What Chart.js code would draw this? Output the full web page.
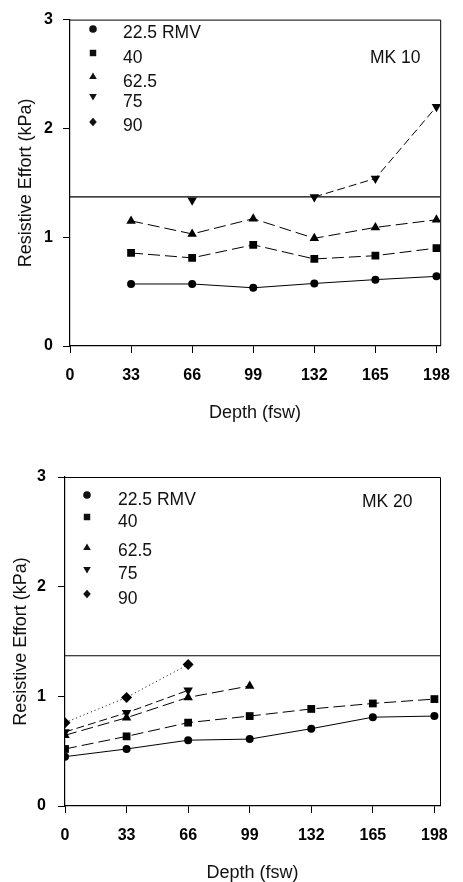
<!DOCTYPE html>
<html>
<head>
<meta charset="utf-8">
<script src="https://cdn.jsdelivr.net/npm/chart.js@4/dist/chart.umd.min.js"></script>
<style>
  body { margin: 0; background: #fff; }
  canvas { display: block; }
</style>
</head>
<body>
<canvas id="mk10" width="463" height="430"></canvas>
<canvas id="mk20" width="463" height="452"></canvas>
<script>
// ---- data ----
const depthTicks = [0, 33, 66, 99, 132, 165, 198];
const rmvLabels = ["22.5 RMV", "40", "62.5", "75", "90"];
const limitValue = 1.37;

// MK 10
const mk10Depth = [33, 66, 99, 132, 165, 198];
const mk10_225 = [0.57, 0.57, 0.535, 0.575, 0.61, 0.64];
const mk10_40 = [0.855, 0.81, 0.93, 0.80, 0.83, 0.90];
const mk10_625 = [1.15, 1.03, 1.17, 0.99, 1.09, 1.16];
const mk10_75 = [null, 1.34, null, 1.37, 1.54, 2.2];
const mk10_90 = [];

// MK 20
const mk20Depth = [0, 33, 66, 99, 132, 165, 198];
const mk20_225 = [0.45, 0.52, 0.60, 0.61, 0.705, 0.81, 0.82];
const mk20_40 = [0.52, 0.635, 0.76, 0.82, 0.885, 0.935, 0.975];
const mk20_625 = [0.645, 0.805, 0.99, 1.095];
const mk20_75 = [0.675, 0.85, 1.055];
const mk20_90 = [0.76, 0.99, 1.29];

// ---- styles ----
const FONT = "Arial, 'Liberation Sans', sans-serif";
const seriesStyle = [
  { pointStyle: 'circle', rotation: 0, dash: [], radius: 4 },
  { pointStyle: 'rect', rotation: 0, dash: [12, 5], radius: 5.5 },
  { pointStyle: 'triangle', rotation: 0, dash: [12, 5], radius: 5.5 },
  { pointStyle: 'triangle', rotation: 180, dash: [8, 4], radius: 5.5 },
  { pointStyle: 'rectRot', rotation: 0, dash: [1, 3], radius: 5.5 }
];

function toXY(xs, ys) {
  return ys.map((y, i) => ({ x: xs[i], y: y }));
}

function buildDatasets(xs, seriesList, xMax) {
  const sets = seriesList.map((ys, i) => ({
    label: rmvLabels[i],
    data: toXY(xs, ys),
    borderColor: '#000',
    backgroundColor: '#000',
    borderWidth: 1,
    borderDash: seriesStyle[i].dash,
    pointStyle: seriesStyle[i].pointStyle,
    rotation: seriesStyle[i].rotation,
    pointRadius: seriesStyle[i].radius,
    pointBorderWidth: 0,
    spanGaps: false,
    tension: 0
  }));
  sets.push({
    label: 'limit',
    data: [{ x: 0, y: limitValue }, { x: xMax, y: limitValue }],
    borderColor: '#000',
    borderWidth: 1.2,
    pointRadius: 0
  });
  return sets;
}

function drawMarker(ctx, style, x, y, r) {
  ctx.beginPath();
  if (style.pointStyle === 'circle') {
    ctx.arc(x, y, r, 0, Math.PI * 2);
  } else if (style.pointStyle === 'rect') {
    ctx.rect(x - r * 0.85, y - r * 0.85, r * 1.7, r * 1.7);
  } else if (style.pointStyle === 'rectRot') {
    ctx.moveTo(x, y - r * 1.1); ctx.lineTo(x + r, y); ctx.lineTo(x, y + r * 1.1); ctx.lineTo(x - r, y);
  } else if (style.rotation === 180) {
    ctx.moveTo(x - r, y - r * 0.8); ctx.lineTo(x + r, y - r * 0.8); ctx.lineTo(x, y + r * 0.9);
  } else {
    ctx.moveTo(x - r, y + r * 0.8); ctx.lineTo(x + r, y + r * 0.8); ctx.lineTo(x, y - r * 0.9);
  }
  ctx.closePath();
  ctx.fill();
}

// frame, legend and panel label
const panelPlugin = {
  id: 'panel',
  afterDraw(chart, args, opts) {
    const ctx = chart.ctx;
    const a = chart.chartArea;
    ctx.save();
    ctx.strokeStyle = '#000';
    ctx.lineWidth = 1;
    ctx.beginPath();
    ctx.moveTo(a.left, a.top + 0.5);
    ctx.lineTo(a.right + 0.5, a.top + 0.5);
    ctx.lineTo(a.right + 0.5, a.bottom);
    ctx.stroke();

    ctx.fillStyle = '#111';
    ctx.font = '17.5px ' + FONT;
    ctx.textBaseline = 'middle';
    rmvLabels.forEach((txt, i) => {
      drawMarker(ctx, seriesStyle[i], opts.markerX, opts.markerY[i], 3.8);
      ctx.fillText(txt, opts.textX, opts.textY[i]);
    });
    ctx.fillText(opts.name, opts.nameX, opts.nameY);
    ctx.restore();
  }
};

function makeChart(id, xs, seriesList, cfg) {
  return new Chart(document.getElementById(id), {
    type: 'line',
    data: { datasets: buildDatasets(xs, seriesList, cfg.xMax) },
    plugins: [panelPlugin],
    options: {
      responsive: false,
      animation: false,
      layout: { padding: { top: cfg.top, right: cfg.right, left: 0, bottom: 0 } },
      plugins: {
        legend: { display: false },
        tooltip: { enabled: false },
        panel: cfg.panel
      },
      scales: {
        x: {
          type: 'linear',
          min: 0,
          max: cfg.xMax,
          afterBuildTicks: s => { s.ticks = depthTicks.map(v => ({ value: v })); },
          afterFit: s => { s.height = cfg.xHeight; },
          ticks: { color: '#000', font: { family: FONT, size: 16, weight: 'bold' }, padding: 13 },
          grid: { drawOnChartArea: false, tickLength: 7, color: '#000' },
          border: { display: true, color: '#000', width: 1.2 },
          title: {
            display: true, text: 'Depth (fsw)', color: '#111',
            font: { family: FONT, size: 18, lineHeight: 1 },
            padding: { top: 0, bottom: cfg.xTitlePad }
          }
        },
        y: {
          min: 0,
          max: 3,
          afterFit: s => { s.width = cfg.yWidth; },
          ticks: { stepSize: 1, color: '#000', font: { family: FONT, size: 16, weight: 'bold' }, padding: cfg.yTickPad },
          grid: { drawOnChartArea: false, tickLength: 7, color: '#000' },
          border: { display: true, color: '#000', width: 1.2 },
          title: {
            display: true, text: 'Resistive Effort (kPa)', color: '#111',
            font: { family: FONT, size: 18, lineHeight: 1 },
            padding: { top: cfg.yTitlePad, bottom: 0 }
          }
        }
      }
    }
  });
}

makeChart('mk10', mk10Depth, [mk10_225, mk10_40, mk10_625, mk10_75, mk10_90], {
  xMax: 200, top: 15, right: 18, xHeight: 84, yWidth: 70,
  xTitlePad: 8, yTitlePad: 17, yTickPad: 10,
  panel: {
    name: 'MK 10', nameX: 370, nameY: 58,
    markerX: 93, markerY: [29, 53, 76, 97, 122],
    textX: 123, textY: [33, 58, 82, 102, 126]
  }
});

makeChart('mk20', mk20Depth, [mk20_225, mk20_40, mk20_625, mk20_75, mk20_90], {
  xMax: 201, top: 47, right: 23, xHeight: 76, yWidth: 65,
  xTitlePad: 0, yTitlePad: 12, yTickPad: 12,
  panel: {
    name: 'MK 20', nameX: 362, nameY: 72,
    markerX: 87, markerY: [65, 87, 117, 140, 164],
    textX: 118, textY: [70, 92, 121, 144, 169]
  }
});
</script>
</body>
</html>
